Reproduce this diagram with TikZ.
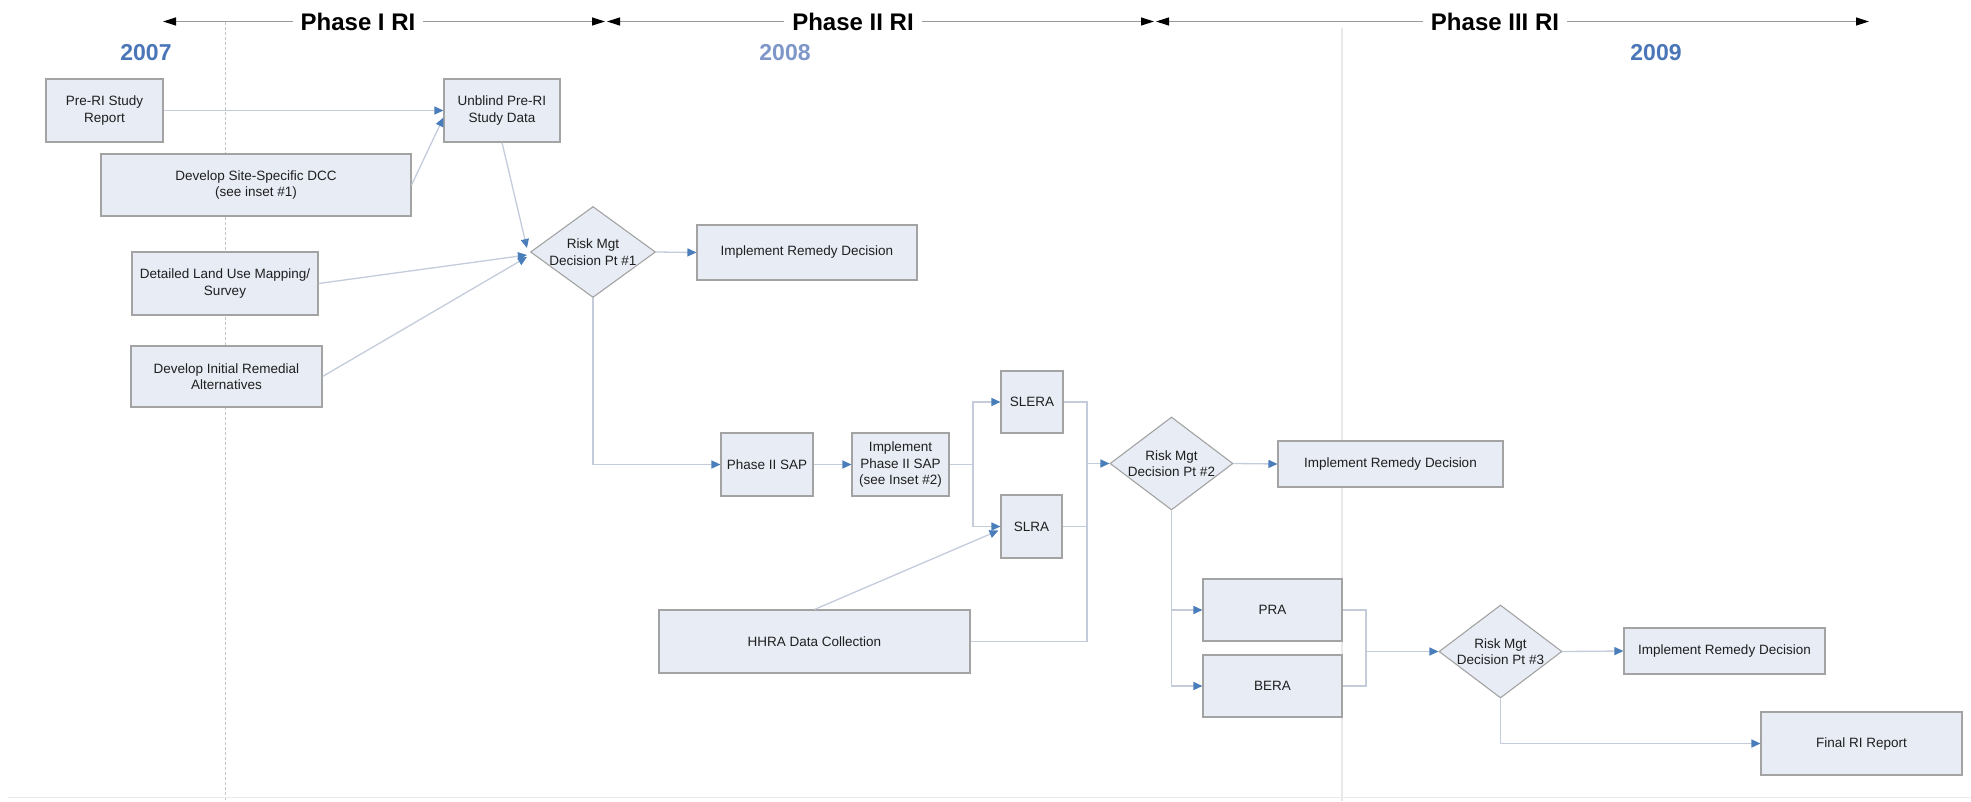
\documentclass[tikz,border=0pt]{standalone}
\usepackage{fontspec}
\setmainfont{Liberation Sans}
\usetikzlibrary{arrows.meta,shapes.geometric,calc}
\definecolor{boxfill}{HTML}{E7ECF5}
\definecolor{boxline}{HTML}{A3A3A3}
\definecolor{connc}{HTML}{C4CCDC}
\definecolor{tipblue}{HTML}{4A7EBB}
\definecolor{yearblue}{HTML}{4A76B8}
\definecolor{yearpale}{HTML}{7F97C8}
\definecolor{tlinec}{HTML}{9A9A9A}
\begin{document}
\begin{tikzpicture}[x=1pt,y=-1pt,
  box/.style={draw=boxline,fill=boxfill,line width=1.1pt,rectangle,inner sep=2pt,align=center,font=\fontsize{13.5}{16.5}\selectfont,text=black!88},
  dia/.style={draw=boxline,fill=boxfill,line width=1.1pt,diamond,inner sep=0pt},
  dtext/.style={align=center,font=\fontsize{13.5}{16.5}\selectfont,inner sep=0pt,text=black!88},
  cn/.style={draw=connc,line width=1.3pt},
  ar/.style={-{Triangle[length=9pt,width=8pt,color=tipblue]}},
  tl/.style={draw=tlinec,line width=1.2pt,{Triangle[length=13pt,width=8pt,color=black]}-{Triangle[length=13pt,width=8pt,color=black]}},
  phase/.style={fill=white,inner xsep=8pt,inner ysep=1pt,font=\fontsize{24}{28}\selectfont\bfseries},
  year/.style={inner sep=0pt,font=\fontsize{23}{27}\selectfont\bfseries}
]
\useasboundingbox (0,0) rectangle (1971,801);
\fill[white] (0,0) rectangle (1971,801);

% background guide lines
\draw[draw=black!22,line width=1pt,dash pattern=on 3pt off 2pt] (225,22) -- (225,801);
\draw[draw=black!9,line width=1.2pt] (1342,28) -- (1342,801);
\draw[draw=black!8,line width=1pt] (8,797) -- (1971,797);

% timeline
\coordinate (p1l) at (163,21.5);
\coordinate (p1r) at (605,21.5);
\coordinate (p2l) at (607,21.5);
\coordinate (p2r) at (1154,21.5);
\coordinate (p3l) at (1156,21.5);
\coordinate (p3r) at (1869,21.5);
\draw[tl] (p1l) -- (p1r);
\draw[tl] (p2l) -- (p2r);
\draw[tl] (p3l) -- (p3r);
\node[phase] (ph1) at (358,21.5) {Phase I RI};
\node[phase] (ph2) at (853,21.5) {Phase II RI};
\node[phase] (ph3) at (1495,21.5) {Phase III RI};

\node[year,text=yearblue] (y7) at (146,52.5) {2007};
\node[year,text=yearpale] (y8) at (785,52.5) {2008};
\node[year,text=yearblue] (y9) at (1656,52.5) {2009};

% boxes
\node[box,minimum width=117pt,minimum height=63pt] (pre) at (104.5,110.5) {Pre-RI Study\\Report};
\node[box,minimum width=116pt,minimum height=63pt] (ub) at (502,110.5) {Unblind Pre-RI\\Study Data};
\node[box,minimum width=310pt,minimum height=62pt] (dcc) at (256,185) {Develop Site-Specific DCC\\(see inset \#1)};
\node[box,minimum width=186pt,minimum height=63pt] (land) at (225,283.5) {Detailed Land Use Mapping/\\Survey};
\node[box,minimum width=191pt,minimum height=61pt] (init) at (226.5,376.5) {Develop Initial Remedial\\Alternatives};
\node[dia,minimum width=125pt,minimum height=91pt] (d1) at (593,252) {};
\node[dtext] (d1t) at (593,252) {Risk Mgt\\Decision Pt \#1};
\node[box,minimum width=220pt,minimum height=55pt] (ird1) at (807,252.5) {Implement Remedy Decision};
\node[box,minimum width=92pt,minimum height=63pt] (sap) at (767,464.5) {Phase II SAP};
\node[box,minimum width=97pt,minimum height=63pt] (ip2) at (900.5,464.5) {Implement\\Phase II SAP\\(see Inset \#2)};
\node[box,minimum width=62pt,minimum height=62pt] (slera) at (1032,402) {SLERA};
\node[box,minimum width=61pt,minimum height=63pt] (slra) at (1031.5,526.5) {SLRA};
\node[box,minimum width=311pt,minimum height=63pt] (hhra) at (814.5,641.5) {HHRA Data Collection};
\node[dia,minimum width=123pt,minimum height=93pt] (d2) at (1171.5,463.5) {};
\node[dtext] (d2t) at (1171.5,463.5) {Risk Mgt\\Decision Pt \#2};
\node[box,minimum width=225pt,minimum height=46pt] (ird2) at (1390.5,464) {Implement Remedy Decision};
\node[box,minimum width=139pt,minimum height=62pt] (pra) at (1272.5,610) {PRA};
\node[box,minimum width=139pt,minimum height=62pt] (bera) at (1272.5,686) {BERA};
\node[dia,minimum width=123pt,minimum height=93pt] (d3) at (1500.5,651.5) {};
\node[dtext] (d3t) at (1500.5,651.5) {Risk Mgt\\Decision Pt \#3};
\node[box,minimum width=201pt,minimum height=46pt] (ird3) at (1724.5,651) {Implement Remedy Decision};
\node[box,minimum width=201pt,minimum height=63pt] (final) at (1861.5,743.5) {Final RI Report};

% junctions
\coordinate (j1) at (973,464.5);
\coordinate (j2) at (1087,463.5);
\coordinate (j3) at (1366,651.5);

% connectors
\draw[cn,ar] (pre.east) -- (ub.west);
\draw[cn,ar] (dcc.east) -- ($(ub.west)+(0,7)$);
\draw[cn,ar] (ub.south) -- ($(d1.west)+(-3,-4)$);
\draw[cn,ar] (land.east) -- ($(d1.west)+(-3,3)$);
\draw[cn,ar] (init.east) -- ($(d1.west)+(-3,5)$);
\draw[cn,ar] (d1.east) -- (ird1.west);
\draw[cn,ar] (d1.south) |- (sap.west);
\draw[cn,ar] (sap.east) -- (ip2.west);
\draw[cn] (ip2.east) -- (j1);
\draw[cn,ar] (j1) |- (slera.west);
\draw[cn,ar] (j1) |- (slra.west);
\draw[cn,ar] (hhra.north) -- ($(slra.west)+(-2,4)$);
\draw[cn] (slera.east) -| (j2);
\draw[cn] (slra.east) -| (j2);
\draw[cn] (hhra.east) -| (j2);
\draw[cn,ar] (j2) -- (d2.west);
\draw[cn,ar] (d2.east) -- (ird2.west);
\draw[cn,ar] (d2.south) |- (pra.west);
\draw[cn,ar] (d2.south) |- (bera.west);
\draw[cn] (pra.east) -| (j3);
\draw[cn] (bera.east) -| (j3);
\draw[cn,ar] (j3) -- (d3.west);
\draw[cn,ar] (d3.east) -- (ird3.west);
\draw[cn,ar] (d3.south) |- (final.west);
\end{tikzpicture}
\end{document}
